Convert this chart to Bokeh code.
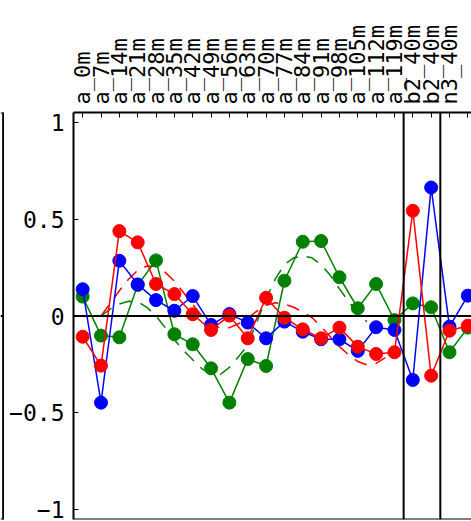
import math
from bokeh.plotting import figure
from bokeh.layouts import row
from bokeh.models import FixedTicker, Range1d, Span, ColumnDataSource, Label
from bokeh.embed import file_html
from bokeh.resources import INLINE

# ---------------- data ----------------
labels = ["a_0m", "a_7m", "a_14m", "a_21m", "a_28m", "a_35m", "a_42m", "a_49m",
          "a_56m", "a_63m", "a_70m", "a_77m", "a_84m", "a_91m", "a_98m", "a_105m",
          "a_112m", "a_119m", "b2_40m", "b2_40m", "n3_40m", "n3_30m"]
idx = list(range(len(labels)))

blue = [0.138, -0.447, 0.285, 0.163, 0.082, 0.027, 0.103, -0.046, 0.010, -0.034,
        -0.115, -0.029, -0.081, -0.120, -0.120, -0.180, -0.058, -0.072, -0.330,
        0.663, -0.055, 0.105]
red = [-0.107, -0.256, 0.438, 0.380, 0.165, 0.113, 0.009, -0.072, 0.002, -0.115,
       0.094, -0.009, -0.069, -0.115, -0.060, -0.158, -0.196, -0.187, 0.543,
       -0.308, -0.076, -0.050]
green = [0.100, -0.101, -0.110, 0.160, 0.287, -0.094, -0.146, -0.270, -0.447,
         -0.222, -0.258, 0.182, 0.383, 0.387, 0.200, 0.040, 0.165, -0.021, 0.065,
         0.045, -0.187, -0.060]

# smooth (dashed) curves at half-category steps
red_fit_x = [1, 1.5, 2, 2.5, 3, 3.5, 4, 4.5, 5, 5.5, 6, 6.5, 7, 7.5, 8, 8.5, 9,
             9.5, 10, 10.5, 11, 11.5, 12, 12.5, 13, 13.5, 14, 14.5, 15, 15.5, 16, 16.5]
red_fit = [0.0, 0.065, 0.13, 0.19, 0.235, 0.258, 0.255, 0.225, 0.18, 0.12, 0.06,
           0.0, -0.04, -0.062, -0.06, -0.04, -0.01, 0.025, 0.055, 0.068, 0.062,
           0.045, 0.022, -0.008, -0.055, -0.107, -0.158, -0.2, -0.235, -0.252,
           -0.245, -0.215]
green_fit_x = [1, 1.5, 2, 2.5, 3, 3.5, 4, 4.5, 5, 5.5, 6, 6.5, 7, 7.5, 8, 8.5, 9,
               9.5, 10, 10.5, 11, 11.5, 12, 12.5, 13, 13.5, 14, 14.5, 15, 15.5]
green_fit = [0.0, 0.035, 0.062, 0.076, 0.074, 0.045, 0.0, -0.06, -0.122, -0.178,
             -0.226, -0.272, -0.302, -0.302, -0.265, -0.21, -0.15, -0.03, 0.09,
             0.19, 0.265, 0.3, 0.31, 0.3, 0.265, 0.21, 0.14, 0.075, 0.015, -0.03]

group_breaks = [17.5, 19.5]
yticks = [-1, -0.5, 0, 0.5, 1]
ytick_labels = ["\u22121", "\u22120.5", "0", "0.5", "1"]

Y0, Y1 = -1.05, 1.05
FONT = "DejaVu Sans Mono"

# ---------------- left neighbour panel (only its right edge is in view) ----------------
pl = figure(width=4, height=521, output_backend="svg", toolbar_location=None,
            x_range=Range1d(0, 1.5), y_range=Range1d(Y0, Y1),
            x_axis_location=None, y_axis_location=None,
            min_border_left=0, min_border_right=0, min_border_top=112,
            min_border_bottom=2)
pl.outline_line_color = None
pl.grid.visible = False
pl.border_fill_color = "white"
pl.add_layout(Span(location=1, dimension="height", line_color="black", line_width=2))
pl.add_layout(Span(location=0, dimension="width", line_color="black", line_width=2))
pl.add_layout(Span(location=Y1, dimension="width", line_color="black", line_width=2))
pl.add_layout(Span(location=Y0, dimension="width", line_color="black", line_width=2))

# ---------------- main panel ----------------
p = figure(width=467, height=521, output_backend="svg", toolbar_location=None,
           x_range=Range1d(-0.5, 21.2), y_range=Range1d(Y0, Y1),
           x_axis_location="above",
           min_border_left=69, min_border_right=0, min_border_top=112,
           min_border_bottom=2)
p.outline_line_color = None
p.grid.visible = False
p.background_fill_color = "white"
p.border_fill_color = "white"

last = len(labels) - 1
xa = p.xaxis[0]
xa.ticker = FixedTicker(ticks=idx)
xa.major_label_overrides = {i: (lab if i != last else "") for i, lab in zip(idx, labels)}
xa.major_label_orientation = math.pi / 2
xa.major_tick_in = 5
xa.major_tick_out = 0
xa.minor_tick_in = 0
xa.minor_tick_out = 0
xa.minor_tick_line_color = None
xa.axis_line_width = 2
xa.major_tick_line_width = 1
xa.major_label_text_font = FONT
xa.major_label_text_font_size = "22px"
xa.major_label_text_color = "black"
xa.major_label_standoff = 8

# the last category label runs off the right edge (as in the reference)
px_per_unit = 407 / (Y1 - Y0)
p.add_layout(Label(x=idx[last], y=Y1 + 9 / px_per_unit, text=labels[last],
                   angle=math.pi / 2, text_align="left", text_baseline="middle",
                   text_font=FONT, text_font_size="22px", text_color="black"))

ya = p.yaxis[0]
ya.ticker = FixedTicker(ticks=yticks)
ya.major_label_overrides = {t: s for t, s in zip(yticks, ytick_labels)}
ya.major_tick_in = 5
ya.major_tick_out = 0
ya.minor_tick_in = 0
ya.minor_tick_out = 0
ya.minor_tick_line_color = None
ya.axis_line_width = 2
ya.major_label_text_font = FONT
ya.major_label_text_font_size = "23px"
ya.major_label_text_color = "black"
ya.major_label_standoff = 9

# frame bottom border, zero line, group separators
p.add_layout(Span(location=Y0, dimension="width", line_color="black", line_width=2))
p.add_layout(Span(location=0, dimension="width", line_color="black", line_width=2))
for b in group_breaks:
    p.add_layout(Span(location=b, dimension="height", line_color="black", line_width=2))

# dashed smooth curves
p.line(red_fit_x, red_fit, line_color="red", line_width=1.5, line_dash="13 9")
p.line(green_fit_x, green_fit, line_color="green", line_width=1.5, line_dash="13 9")

# series
for vals, col in [(green, "green"), (blue, "blue"), (red, "red")]:
    src = ColumnDataSource(dict(x=idx, y=vals))
    p.line("x", "y", source=src, line_color=col, line_width=1.5)
    p.scatter("x", "y", source=src, size=13, fill_color=col, line_color=col)

layout = row(pl, p, spacing=0)
open("out.html", "w").write(file_html(layout, INLINE))
